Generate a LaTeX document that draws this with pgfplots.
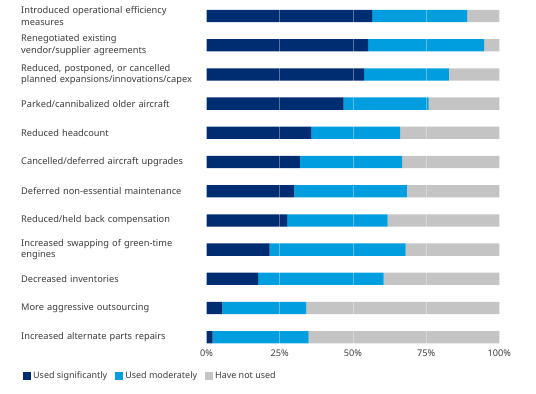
\documentclass[border=0pt]{standalone}
\usepackage{fontspec}
\setmainfont{Noto Sans}
\usepackage{pgfplots}
\usepackage{pgfplotstable}
\pgfplotsset{compat=1.18}
\definecolor{sig}{RGB}{0,45,114}
\definecolor{mod}{RGB}{0,158,222}
\definecolor{nou}{RGB}{196,196,196}
\definecolor{txt}{RGB}{60,60,60}
\pgfplotstableread{
idx sig mod not
0 56.6 32.5 10.9
1 55.2 39.6 5.2
2 53.8 29.0 17.2
3 46.8 29.1 24.1
4 35.7 30.4 33.9
5 31.9 34.9 33.2
6 30.0 38.4 31.6
7 27.5 34.4 38.1
8 21.6 46.4 32.0
9 17.6 42.9 39.5
10 5.4 28.7 65.9
11 2.1 32.8 65.1
}\data
\begin{document}
\begin{tikzpicture}
\useasboundingbox (0,0) rectangle (536bp,-394bp);
\begin{axis}[
  at={(206.5bp,-346bp)}, anchor=south west,
  scale only axis, width=292.8bp, height=343.1bp,
  xbar stacked, bar width=12.3bp,
  xmin=0, xmax=100, ymin=-0.45, ymax=11.30, y dir=reverse,
  axis line style={draw=none}, tick style={draw=none},
  xtick={0,25,50,75,100}, xticklabels={0\%,25\%,50\%,75\%,100\%},
  minor xtick={25,50,75}, xminorgrids,
  minor grid style={white, opacity=0.35, line width=0.7pt},
  axis on top,
  ytick={0,...,11},
  yticklabels={
    {Introduced operational efficiency\\measures},
    {Renegotiated existing\\vendor/supplier agreements},
    {Reduced, postponed, or cancelled\\planned expansions/innovations/capex},
    {Parked/cannibalized older aircraft},
    {Reduced headcount},
    {Cancelled/deferred aircraft upgrades},
    {Deferred non-essential maintenance},
    {Reduced/held back compensation},
    {Increased swapping of green-time\\engines},
    {Decreased inventories},
    {More aggressive outsourcing},
    {Increased alternate parts repairs}},
  yticklabel style={anchor=west, align=left, text width=184bp, inner sep=0pt,
    xshift=-185.5bp, font=\fontsize{9.3}{11.5}\selectfont, text=txt},
  xticklabel style={font=\fontsize{9.2}{11}\selectfont, text=txt, yshift=-0.5bp},
  legend style={at={(-0.637,-0.087)}, anchor=west, draw=none, fill=none,
    legend columns=3, font=\fontsize{9}{11}\selectfont, text=txt,
    /tikz/every odd column/.append style={column sep=0bp},
    /tikz/every even column/.append style={column sep=6bp}},
  legend image code/.code={\fill[#1] (0bp,-4bp) rectangle (8bp,4bp);},
]
\addplot[fill=sig, draw=none] table[x=sig, y=idx] \data;
\addplot[fill=mod, draw=none] table[x=mod, y=idx] \data;
\addplot[fill=nou, draw=none] table[x=not, y=idx] \data;
\legend{Used significantly, Used moderately, Have not used}
\end{axis}
\end{tikzpicture}
\end{document}
